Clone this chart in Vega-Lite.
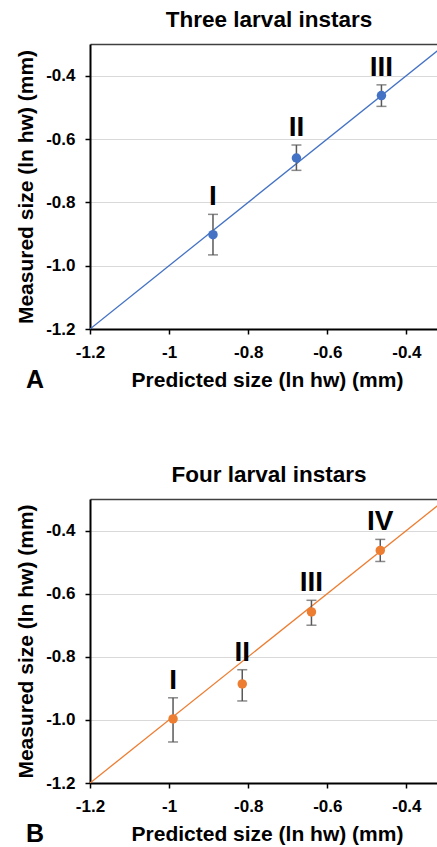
{
  "$schema": "https://vega.github.io/schema/vega-lite/v6.json",
  "padding": {"top": 8, "left": 14, "right": 0, "bottom": 0},
  "spacing": 69,
  "config": {
    "font": "Liberation Sans",
    "view": {"stroke": null},
    "axis": {
      "labelFont": "Liberation Sans", "labelFontSize": 17, "labelFontWeight": "bold", "labelColor": "#000000",
      "titleFont": "Liberation Sans", "titleFontSize": 21, "titleFontWeight": "bold", "titleColor": "#000000",
      "domainColor": "#000000", "domainWidth": 2, "tickColor": "#000000", "tickWidth": 1.5,
      "gridColor": "#d9d9d9", "gridWidth": 1.2, "labelFlush": false
    },
    "title": {"font": "Liberation Sans", "fontSize": 22.5, "fontWeight": "bold", "color": "#000000"}
  },
  "datasets": {
    "ref": [{"v": -1.2}, {"v": -0.3}],
    "three": [
      {"instar": "I", "pred": -0.889, "meas": -0.902, "lo": -0.966, "hi": -0.838},
      {"instar": "II", "pred": -0.678, "meas": -0.660, "lo": -0.699, "hi": -0.619},
      {"instar": "III", "pred": -0.463, "meas": -0.463, "lo": -0.497, "hi": -0.429}
    ],
    "four": [
      {"instar": "I", "pred": -0.990, "meas": -0.997, "lo": -1.070, "hi": -0.930},
      {"instar": "II", "pred": -0.815, "meas": -0.886, "lo": -0.940, "hi": -0.841},
      {"instar": "III", "pred": -0.640, "meas": -0.658, "lo": -0.700, "hi": -0.621},
      {"instar": "IV", "pred": -0.466, "meas": -0.463, "lo": -0.498, "hi": -0.428}
    ]
  },
  "vconcat": [
    {
      "width": 348, "height": 285,
      "title": {"text": "Three larval instars", "frame": "group", "offset": -5, "baseline": "alphabetic", "dx": 5},
      "resolve": {"axis": {"x": "independent", "y": "independent"}},
      "layer": [
        {
          "data": {"name": "ref"},
          "mark": {"type": "line", "color": "#4472C4", "strokeWidth": 1.3, "clip": true},
          "encoding": {
            "x": {"field": "v", "type": "quantitative", "scale": {"domain": [-1.2, -0.32], "nice": false, "zero": false},
                  "axis": {"orient": "top", "labels": false, "ticks": false, "grid": false, "title": null, "domainColor": "#404040", "domainWidth": 1.5}},
            "y": {"field": "v", "type": "quantitative", "scale": {"domain": [-1.2, -0.3], "nice": false, "zero": false},
                  "axis": {"values": [-1.2, -1.0, -0.8, -0.6, -0.4], "labelExpr": "replace(format(datum.value, '.1f'), '\u2212', '-')", "title": "Measured size (ln hw) (mm)", "tickSize": 5, "labelPadding": 10, "titleX": -58, "titleBaseline": "alphabetic"}}
          }
        },
        {
          "data": {"name": "three"},
          "mark": {"type": "rule", "color": "#595959", "strokeWidth": 1.5},
          "encoding": {
            "x": {"field": "pred", "type": "quantitative", "axis": null},
            "y": {"field": "lo", "type": "quantitative", "axis": null},
            "y2": {"field": "hi"}
          }
        },
        {
          "data": {"name": "three"},
          "mark": {"type": "tick", "orient": "horizontal", "color": "#595959", "size": 10, "thickness": 1.5},
          "encoding": {
            "x": {"field": "pred", "type": "quantitative", "axis": null},
            "y": {"field": "lo", "type": "quantitative", "axis": null}
          }
        },
        {
          "data": {"name": "three"},
          "mark": {"type": "tick", "orient": "horizontal", "color": "#595959", "size": 10, "thickness": 1.5},
          "encoding": {
            "x": {"field": "pred", "type": "quantitative", "axis": null},
            "y": {"field": "hi", "type": "quantitative", "axis": null}
          }
        },
        {
          "data": {"name": "three"},
          "mark": {"type": "point", "filled": true, "color": "#4472C4", "opacity": 1, "size": 90},
          "encoding": {
            "x": {"field": "pred", "type": "quantitative",
                  "axis": {"values": [-1.2, -1, -0.8, -0.6, -0.4], "labelExpr": "datum.value == -1 ? '-1' : replace(format(datum.value, '.1f'), '\u2212', '-')", "title": "Predicted size (ln hw) (mm)", "tickSize": 5, "labelPadding": 10, "titleY": 57, "titleBaseline": "alphabetic", "titleX": 177}},
            "y": {"field": "meas", "type": "quantitative", "axis": null}
          }
        },
        {
          "data": {"name": "three"},
          "mark": {"type": "text", "fontSize": 28, "fontWeight": "bold", "baseline": "alphabetic", "dy": -9, "color": "#000000"},
          "encoding": {
            "x": {"field": "pred", "type": "quantitative", "axis": null},
            "y": {"field": "hi", "type": "quantitative", "axis": null},
            "text": {"field": "instar"}
          }
        },
        {
          "data": {"values": [{"panel": "A", "px": -1.339, "py": -1.387}]},
          "mark": {"type": "text", "fontSize": 25, "fontWeight": "bold", "baseline": "alphabetic", "align": "center", "clip": false, "color": "#000000"},
          "encoding": {
            "x": {"field": "px", "type": "quantitative", "axis": null},
            "y": {"field": "py", "type": "quantitative", "axis": null},
            "text": {"field": "panel"}
          }
        }
      ]
    },
    {
      "width": 348, "height": 284,
      "title": {"text": "Four larval instars", "frame": "group", "offset": -5, "baseline": "alphabetic", "dx": 5},
      "resolve": {"axis": {"x": "independent", "y": "independent"}},
      "layer": [
        {
          "data": {"name": "ref"},
          "mark": {"type": "line", "color": "#ED7D31", "strokeWidth": 1.3, "clip": true},
          "encoding": {
            "x": {"field": "v", "type": "quantitative", "scale": {"domain": [-1.2, -0.32], "nice": false, "zero": false},
                  "axis": {"orient": "top", "labels": false, "ticks": false, "grid": false, "title": null, "domainColor": "#404040", "domainWidth": 1.5}},
            "y": {"field": "v", "type": "quantitative", "scale": {"domain": [-1.2, -0.3], "nice": false, "zero": false},
                  "axis": {"values": [-1.2, -1.0, -0.8, -0.6, -0.4], "labelExpr": "replace(format(datum.value, '.1f'), '\u2212', '-')", "title": "Measured size (ln hw) (mm)", "tickSize": 5, "labelPadding": 10, "titleX": -58, "titleBaseline": "alphabetic"}}
          }
        },
        {
          "data": {"name": "four"},
          "mark": {"type": "rule", "color": "#595959", "strokeWidth": 1.5},
          "encoding": {
            "x": {"field": "pred", "type": "quantitative", "axis": null},
            "y": {"field": "lo", "type": "quantitative", "axis": null},
            "y2": {"field": "hi"}
          }
        },
        {
          "data": {"name": "four"},
          "mark": {"type": "tick", "orient": "horizontal", "color": "#595959", "size": 10, "thickness": 1.5},
          "encoding": {
            "x": {"field": "pred", "type": "quantitative", "axis": null},
            "y": {"field": "lo", "type": "quantitative", "axis": null}
          }
        },
        {
          "data": {"name": "four"},
          "mark": {"type": "tick", "orient": "horizontal", "color": "#595959", "size": 10, "thickness": 1.5},
          "encoding": {
            "x": {"field": "pred", "type": "quantitative", "axis": null},
            "y": {"field": "hi", "type": "quantitative", "axis": null}
          }
        },
        {
          "data": {"name": "four"},
          "mark": {"type": "point", "filled": true, "color": "#ED7D31", "opacity": 1, "size": 90},
          "encoding": {
            "x": {"field": "pred", "type": "quantitative",
                  "axis": {"values": [-1.2, -1, -0.8, -0.6, -0.4], "labelExpr": "datum.value == -1 ? '-1' : replace(format(datum.value, '.1f'), '\u2212', '-')", "title": "Predicted size (ln hw) (mm)", "tickSize": 5, "labelPadding": 10, "titleY": 57, "titleBaseline": "alphabetic", "titleX": 177}},
            "y": {"field": "meas", "type": "quantitative", "axis": null}
          }
        },
        {
          "data": {"name": "four"},
          "mark": {"type": "text", "fontSize": 28, "fontWeight": "bold", "baseline": "alphabetic", "dy": -9, "color": "#000000"},
          "encoding": {
            "x": {"field": "pred", "type": "quantitative", "axis": null},
            "y": {"field": "hi", "type": "quantitative", "axis": null},
            "text": {"field": "instar"}
          }
        },
        {
          "data": {"values": [{"panel": "B", "px": -1.339, "py": -1.387}]},
          "mark": {"type": "text", "fontSize": 25, "fontWeight": "bold", "baseline": "alphabetic", "align": "center", "clip": false, "color": "#000000"},
          "encoding": {
            "x": {"field": "px", "type": "quantitative", "axis": null},
            "y": {"field": "py", "type": "quantitative", "axis": null},
            "text": {"field": "panel"}
          }
        }
      ]
    }
  ]
}
